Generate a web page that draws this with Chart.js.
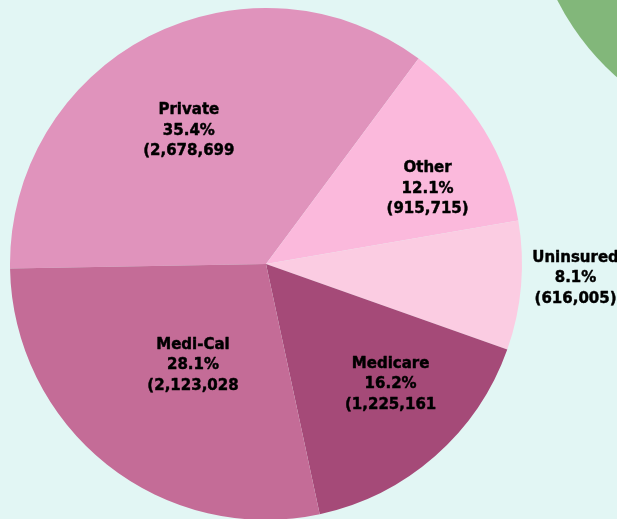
<!DOCTYPE html>
<html>
<head>
<meta charset="utf-8">
<script src="https://cdn.jsdelivr.net/npm/chart.js@4"></script>
<style>
  html, body { margin: 0; padding: 0; width: 617px; height: 519px; overflow: hidden; background: #e2f6f4; }
  #wrap { position: absolute; left: 0; top: 0; width: 617px; height: 530px; }
  #green { position: absolute; left: 529px; top: -379px; width: 522px; height: 522px; border-radius: 50%; background: #82b77a; }
</style>
</head>
<body>
<div id="green"></div>
<div id="wrap"><canvas id="c" width="617" height="530"></canvas></div>
<script>
const categories = ["Private", "Other", "Uninsured", "Medicare", "Medi-Cal"];
const values = [2678699, 915715, 616005, 1225161, 2123028];
const percentLabels = ["35.4%", "12.1%", "8.1%", "16.2%", "28.1%"];
const countLabels = ["(2,678,699", "(915,715)", "(616,005)", "(1,225,161", "(2,123,028"];

const colors = ["#e093bc", "#fbb9dc", "#fbcce2", "#a54a78", "#c46c97"];
// label placement style: fraction of radius and angular tweak (deg)
const labelRadius = [0.61, 0.70, 1.21, 0.67, 0.48];
const labelAngleTweak = [-2.4, 6, -2.7, -5.3, -2];

const labelPlugin = {
  id: 'sliceLabels',
  afterDatasetsDraw(chart) {
    const ctx = chart.ctx;
    const meta = chart.getDatasetMeta(0);
    ctx.save();
    ctx.font = 'bold 15px "DejaVu Sans", Verdana, sans-serif';
    ctx.fillStyle = '#000000';
    ctx.strokeStyle = '#000000';
    ctx.lineWidth = 0.45;
    ctx.lineJoin = 'round';
    ctx.textAlign = 'center';
    ctx.textBaseline = 'middle';
    meta.data.forEach((arc, i) => {
      const p = arc.getProps(['x', 'y', 'startAngle', 'endAngle', 'outerRadius'], true);
      const mid = (p.startAngle + p.endAngle) / 2 + labelAngleTweak[i] * Math.PI / 180;
      const r = p.outerRadius * labelRadius[i];
      const cx = p.x + Math.cos(mid) * r;
      const cy = p.y + Math.sin(mid) * r + 2.5;
      const lines = [categories[i], percentLabels[i], countLabels[i]];
      const lh = 20.5;
      lines.forEach((t, k) => {
        ctx.fillText(t, cx, cy + (k - 1) * lh);
        ctx.strokeText(t, cx, cy + (k - 1) * lh);
      });
    });
    ctx.restore();
  }
};

new Chart(document.getElementById('c'), {
  type: 'pie',
  data: {
    labels: categories,
    datasets: [{
      data: values,
      backgroundColor: colors,
      borderWidth: 0
    }]
  },
  options: {
    responsive: false,
    animation: false,
    rotation: 269,
    layout: { padding: { left: 10, top: 8, right: 95, bottom: 10 } },
    plugins: {
      legend: { display: false },
      tooltip: { enabled: false },
      title: { display: false }
    }
  },
  plugins: [labelPlugin]
});
</script>
</body>
</html>
